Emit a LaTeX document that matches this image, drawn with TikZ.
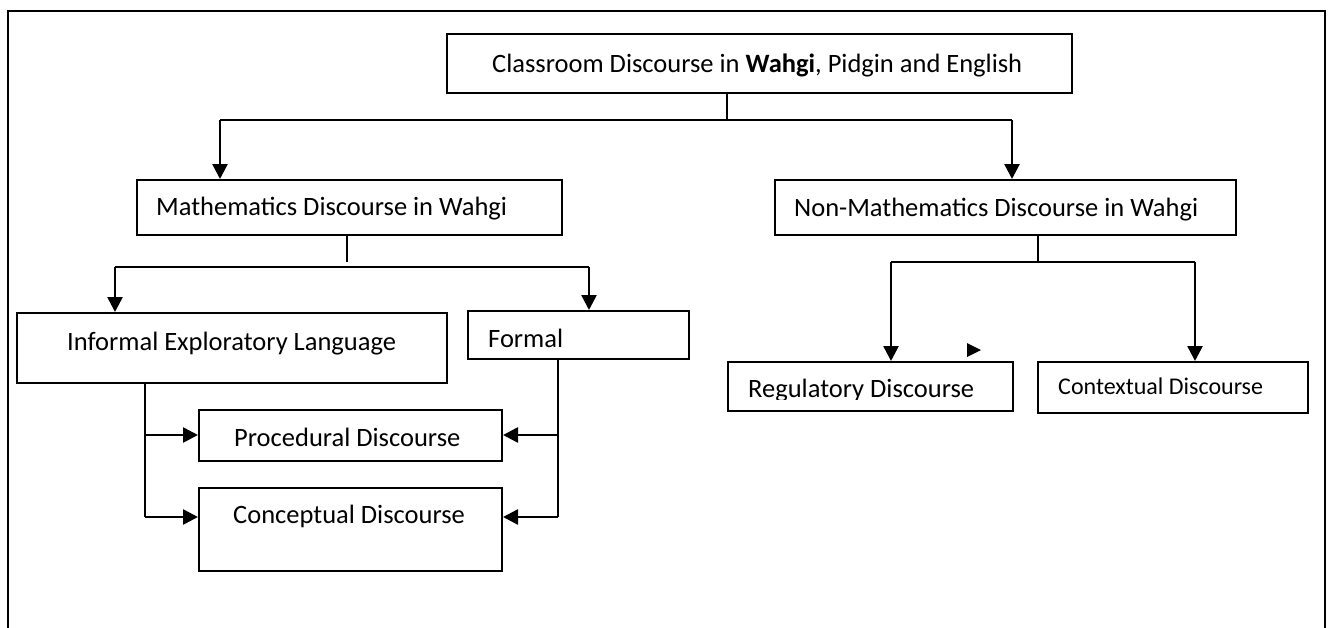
\documentclass[tikz,border=0pt]{standalone}
\usepackage{fontspec}
\setmainfont{Carlito}
\usetikzlibrary{arrows.meta}
\begin{document}
\begin{tikzpicture}[x=1pt,y=-1pt,
  box/.style={draw, line width=2pt, inner sep=0pt, anchor=north west},
  lbl/.style={anchor=base west, inner sep=0pt, font=\fontsize{26.5}{30}\selectfont},
  small/.style={lbl, font=\fontsize{24}{28}\selectfont},
  stem/.style={line width=1.4pt},
  rail/.style={line width=2pt},
  bar/.style={line width=2.6pt},
  arr/.style={line width=2.6pt, -{Triangle[length=15pt,width=15pt]}}]
\useasboundingbox (0,0) rectangle (1333,627);

% outer frame (open at the bottom)
\draw[line width=2pt] (8,640) -- (8,11) -- (1325,11) -- (1325,640);

% boxes
\node[box, minimum width=625pt, minimum height=59pt] (top) at (446,33) {};
\node[box, minimum width=425pt, minimum height=55pt] (math) at (136,179) {};
\node[box, minimum width=461pt, minimum height=55pt] (nonmath) at (774,179) {};
\node[box, minimum width=430pt, minimum height=70pt] (informal) at (16,312) {};
\node[box, minimum width=221pt, minimum height=48pt] (formal) at (467,310) {};
\node[box, minimum width=303pt, minimum height=51pt] (proc) at (198,409) {};
\node[box, minimum width=303pt, minimum height=83pt] (conc) at (198,487) {};
\node[box, minimum width=285pt, minimum height=49pt] (reg) at (727,361) {};
\node[box, minimum width=270pt, minimum height=51pt] (ctx) at (1037,361) {};

% labels
\node[lbl] (toptext) at (492,72) {Classroom Discourse in \textbf{Wahgi}, Pidgin and English};
\node[lbl] (mathtext) at (156,215) {Mathematics Discourse in Wahgi};
\node[lbl] (nonmathtext) at (794,216) {Non-Mathematics Discourse in Wahgi};
\node[lbl] (informaltext) at (67,350) {Informal Exploratory Language};
\node[lbl] (formaltext) at (488,347) {Formal};
\node[lbl] (proctext) at (234,446) {Procedural Discourse};
\node[lbl] (conctext) at (233,523) {Conceptual Discourse};
\begin{scope}
  \clip (727,361) rectangle (1012,399);
  \node[lbl] (regtext) at (748,397) {Regulatory Discourse};
\end{scope}
\node[small] (ctxtext) at (1058,394) {Contextual Discourse};

% first level
\coordinate (j1) at (727,120);
\coordinate (l1) at (220,120);
\coordinate (r1) at (1012,120);
\draw[stem] (top.south -| j1) -- (j1);
\draw[bar] (l1) -- (r1);
\draw[arr] (l1) -- (l1 |- math.north);
\draw[arr] (r1) -- (r1 |- nonmath.north);

% mathematics branch
\coordinate (ms) at (347,262);
\coordinate (l2) at (115,267);
\coordinate (r2) at (589,267);
\draw[stem] (math.south -| ms) -- (ms);
\draw[bar] (l2) -- (r2);
\draw[arr] (l2) -- (l2 |- informal.north);
\draw[arr] (r2) -- (r2 |- formal.north);

% informal feeds both discourse boxes
\coordinate (ia) at (145,435);
\coordinate (ib) at (145,517);
\draw[rail] (informal.south -| ib) -- (ib);
\draw[arr] (ia) -- (ia -| proc.west);
\draw[arr] (ib) -- (ib -| conc.west);

% formal feeds both discourse boxes
\coordinate (fa) at (558,435);
\coordinate (fb) at (558,517);
\draw[rail] (formal.south -| fb) -- (fb);
\draw[arr] (fa) -- (fa -| proc.east);
\draw[arr] (fb) -- (fb -| conc.east);

% non-mathematics branch
\coordinate (ns) at (1038,262);
\coordinate (l3) at (891,262);
\coordinate (r3) at (1195,262);
\draw[stem] (nonmath.south -| ns) -- (ns);
\draw[bar] (l3) -- (r3);
\draw[arr] (l3) -- (l3 |- reg.north);
\draw[arr] (r3) -- (r3 |- ctx.north);

% loose arrowhead above the regulatory box
\fill (967,343) -- (981,350) -- (967,357) -- cycle;
\end{tikzpicture}
\end{document}
